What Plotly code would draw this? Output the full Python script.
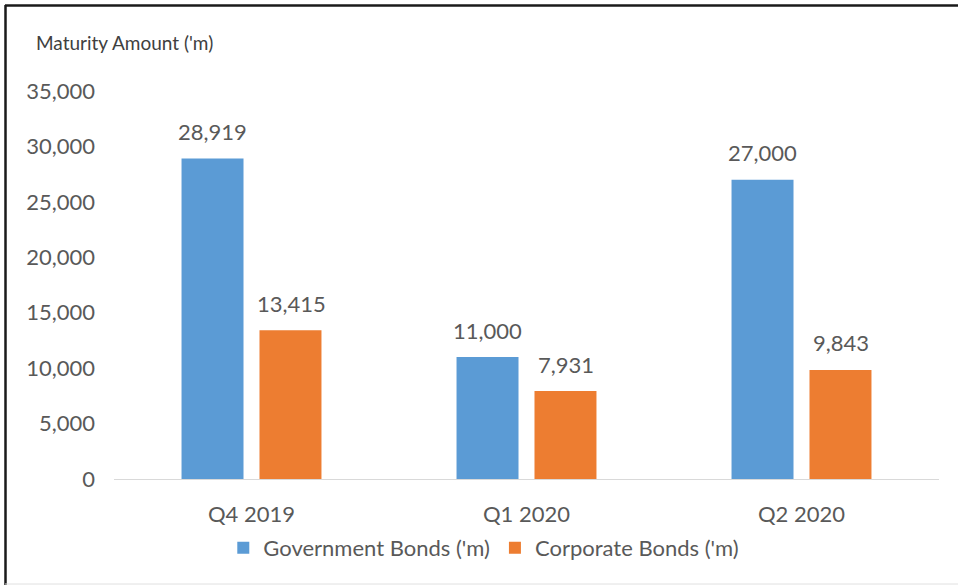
import plotly.graph_objects as go

categories = ["Q4 2019", "Q1 2020", "Q2 2020"]
government = [28919, 11000, 27000]
corporate = [13415, 7931, 9843]
series_names = ["Government Bonds ('m)", "Corporate Bonds ('m)"]
y_ticks = [0, 5000, 10000, 15000, 20000, 25000, 30000, 35000]

W, H = 958, 585
L, R, T, B = 114, 19, 91, 106
FONT = "Lato, Open Sans, sans-serif"
TXT = "#595959"
BLUE = "#5B9BD5"
ORANGE = "#ED7D31"

fig = go.Figure()
fig.add_trace(go.Bar(x=categories, y=government, name=series_names[0],
                     marker=dict(color=BLUE, line=dict(width=0))))
fig.add_trace(go.Bar(x=categories, y=corporate, name=series_names[1],
                     marker=dict(color=ORANGE, line=dict(width=0))))

# data labels
for vals, shift in ((government, -39.5), (corporate, 39.5)):
    for c, v in zip(categories, vals):
        fig.add_annotation(x=c, y=v, text=f"{v:,}", showarrow=False,
                           xshift=shift, yshift=27, yanchor="middle",
                           font=dict(family=FONT, size=22, color=TXT))

pw = W - L - R
ph = H - T - B
def px(x):
    return (x - L) / pw
def py(y):
    return (H - B - y) / ph

# frame
fig.add_shape(type="line", xref="paper", yref="paper",
              x0=px(5), x1=px(958), y0=py(5.5), y1=py(5.5),
              line=dict(color="#1a1a1a", width=2.5))
fig.add_shape(type="line", xref="paper", yref="paper",
              x0=px(5.5), x1=px(5.5), y0=py(5), y1=py(585),
              line=dict(color="#1a1a1a", width=2.5))
fig.add_shape(type="line", xref="paper", yref="paper",
              x0=px(5), x1=px(958), y0=py(584), y1=py(584),
              line=dict(color="#e0e0e0", width=1))

# title
fig.add_annotation(xref="paper", yref="paper", x=px(34), y=py(42),
                   xanchor="left", yanchor="middle", showarrow=False,
                   text="Maturity Amount ('m)",
                   font=dict(family=FONT, size=19, color="#404040"))

fig.update_layout(
    width=W, height=H,
    margin=dict(l=L, r=R, t=T, b=B, autoexpand=False),
    paper_bgcolor="white", plot_bgcolor="white",
    barmode="group", bargap=0.433, bargroupgap=0.205,
    font=dict(family=FONT, size=22, color=TXT),
    showlegend=True,
    legend=dict(orientation="h", xref="container", yref="container",
                x=0.505, xanchor="center", y=1 - 548 / H, yanchor="middle",
                font=dict(family=FONT, size=22, color=TXT),
                itemwidth=30, traceorder="normal"),
)
fig.update_xaxes(showgrid=False, showline=True, linecolor="#d9d9d9", linewidth=1,
                 ticks="", ticklabelstandoff=16,
                 tickfont=dict(family=FONT, size=22, color=TXT))
fig.update_yaxes(range=[0, 35000], tickvals=y_ticks, tickformat=",",
                 showgrid=False, zeroline=False, showline=False, ticks="",
                 ticklabelstandoff=18,
                 tickfont=dict(family=FONT, size=22, color=TXT))

fig.write_html("out.html")
